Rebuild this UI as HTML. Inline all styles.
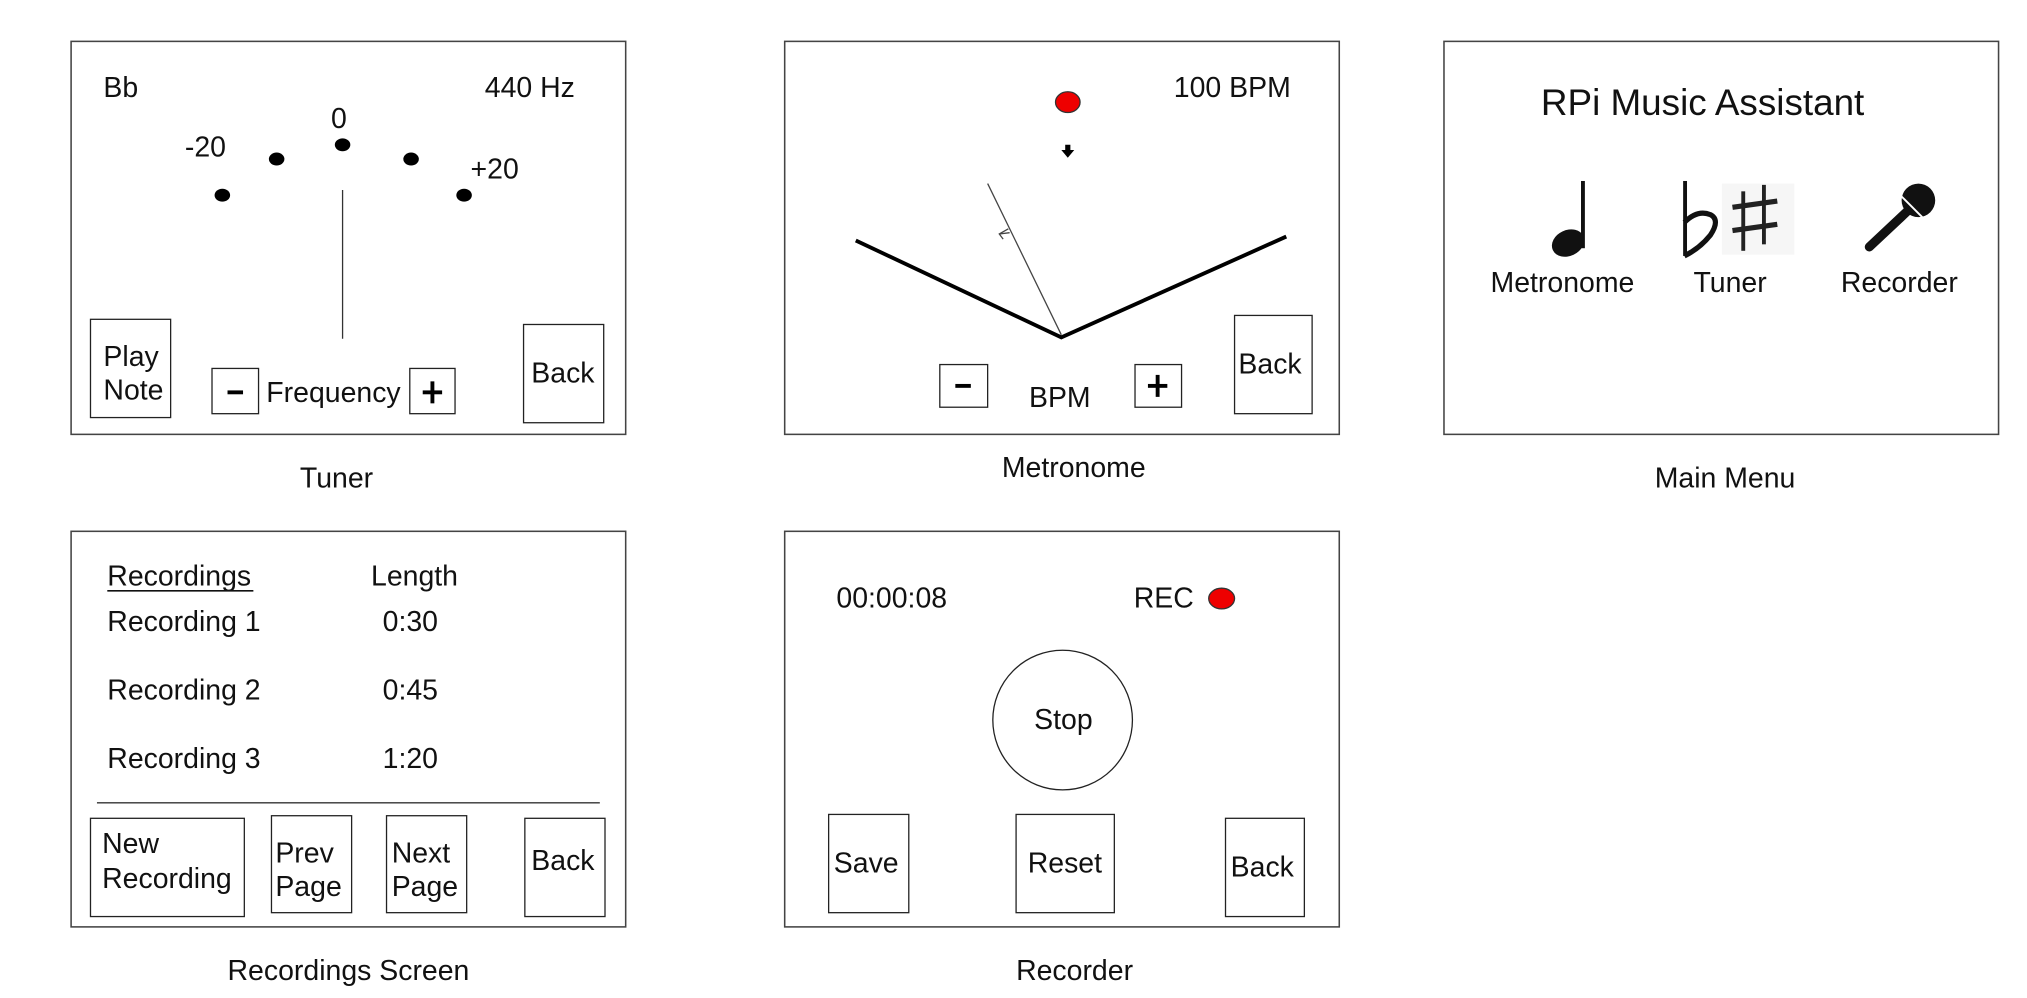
<!DOCTYPE html>
<html><head><meta charset="utf-8"><style>
html,body{margin:0;padding:0;background:#fff;}
svg{display:block;}
text{font-family:"Liberation Sans",sans-serif;font-size:22px;fill:#111;}
.p{fill:none;stroke:#444;stroke-width:1.2;}
.b{fill:#fff;stroke:#222;stroke-width:1;}
</style></head><body>
<svg width="2027" height="998" viewBox="0 0 1568 772">
<!-- Tuner -->
<g>
<rect class="p" x="55" y="32" width="429" height="304"/>
<text x="80" y="75">Bb</text>
<text x="375" y="75">440 Hz</text>
<text x="143" y="121">-20</text>
<text x="256" y="99">0</text>
<text x="364" y="138">+20</text>
<g fill="#000">
<ellipse cx="172" cy="151" rx="6" ry="5"/><ellipse cx="214" cy="123" rx="6" ry="5"/><ellipse cx="265" cy="112" rx="6" ry="5"/><ellipse cx="318" cy="123" rx="6" ry="5"/><ellipse cx="359" cy="151" rx="6" ry="5"/>
</g>
<line x1="265" y1="147" x2="265" y2="262" stroke="#333" stroke-width="1"/>
<g><rect class="b" x="70" y="247" width="62" height="76"/><text x="80" y="283">Play</text><text x="80" y="309">Note</text></g>
<g><rect class="b" x="164" y="285" width="36" height="35"/><rect x="176" y="302" width="12" height="3" fill="#000"/></g>
<text x="206" y="311">Frequency</text>
<g><rect class="b" x="317" y="285" width="35" height="35"/><rect x="327" y="302" width="15" height="3" fill="#000"/><rect x="333" y="295" width="3" height="17" fill="#000"/></g>
<g><rect class="b" x="405" y="251" width="62" height="76"/><text x="411" y="296">Back</text></g>
</g>
<text x="232" y="377">Tuner</text>

<!-- Metronome -->
<g>
<rect class="p" x="607" y="32" width="429" height="304"/>
<text x="908" y="75">100 BPM</text>
<ellipse cx="826" cy="79" rx="9.5" ry="8" fill="#e00" stroke="#333" stroke-width="1"/>
<path d="M824 112 h4 v4 h3 l-5 6 l-5 -6 h3z" fill="#000"/>
<polyline points="662,186 821,261 995,183" fill="none" stroke="#000" stroke-width="3"/>
<line x1="764" y1="142" x2="821" y2="259" stroke="#444" stroke-width="1"/>
<path d="M780 177 l-7 4 l3 4 M773 181 l8 -1" fill="none" stroke="#444" stroke-width="1"/>
<g><rect class="b" x="727" y="282" width="37" height="33"/><rect x="739" y="297" width="12" height="3" fill="#000"/></g>
<text x="796" y="315">BPM</text>
<g><rect class="b" x="878" y="282" width="36" height="33"/><rect x="888" y="297" width="15" height="3" fill="#000"/><rect x="894" y="290" width="3" height="17" fill="#000"/></g>
<g><rect class="b" x="955" y="244" width="60" height="76"/><text x="958" y="289">Back</text></g>
</g>
<text x="775" y="369">Metronome</text>

<!-- Main menu -->
<g>
<rect class="p" x="1117" y="32" width="429" height="304"/>
<text x="1192" y="89" style="font-size:28.5px">RPi Music Assistant</text>
<g>
<rect x="1223" y="140" width="3" height="52" fill="#111"/><ellipse cx="1213" cy="188" rx="13" ry="10" transform="rotate(-25 1213 188)" fill="#111"/>
</g>
<g>
<rect x="1302" y="140" width="3" height="58" fill="#111"/><path d="M1303 172 q10 -10 20 -6 q8 4 0 16 q-8 10 -20 16" fill="none" stroke="#111" stroke-width="4"/>
<rect x="1332" y="142" width="56" height="55" fill="#f6f6f6"/>
<g fill="#222"><rect x="1347" y="148" width="3" height="46"/><rect x="1363" y="143" width="3" height="46"/><rect x="1340" y="156" width="35" height="4" transform="rotate(-8 1357 158)"/><rect x="1340" y="174" width="35" height="4" transform="rotate(-8 1357 176)"/></g>
</g>
<g>
<line x1="1446" y1="191" x2="1478" y2="161" stroke="#111" stroke-width="7" stroke-linecap="round"/>
<circle cx="1484" cy="155" r="13" fill="#111"/><line x1="1471" y1="152" x2="1487" y2="168" stroke="#fff" stroke-width="1.5"/>
</g>
<text x="1153" y="226">Metronome</text>
<text x="1310" y="226">Tuner</text>
<text x="1424" y="226">Recorder</text>
</g>
<text x="1280" y="377">Main Menu</text>

<!-- Recordings -->
<g>
<rect class="p" x="55" y="411" width="429" height="306"/>
<text x="83" y="453">Recordings</text>
<line x1="83" y1="457" x2="196" y2="457" stroke="#111" stroke-width="1.3"/>
<text x="287" y="453">Length</text>
<text x="83" y="488">Recording 1</text><text x="296" y="488">0:30</text>
<text x="83" y="541">Recording 2</text><text x="296" y="541">0:45</text>
<text x="83" y="594">Recording 3</text><text x="296" y="594">1:20</text>
<line x1="75" y1="621" x2="464" y2="621" stroke="#333" stroke-width="1"/>
<g><rect class="b" x="70" y="633" width="119" height="76"/><text x="79" y="660">New</text><text x="79" y="687">Recording</text></g>
<g><rect class="b" x="210" y="631" width="62" height="75"/><text x="213" y="667">Prev</text><text x="213" y="693">Page</text></g>
<g><rect class="b" x="299" y="631" width="62" height="75"/><text x="303" y="667">Next</text><text x="303" y="693">Page</text></g>
<g><rect class="b" x="406" y="633" width="62" height="76"/><text x="411" y="673">Back</text></g>
</g>
<text x="176" y="758">Recordings Screen</text>

<!-- Recorder -->
<g>
<rect class="p" x="607" y="411" width="429" height="306"/>
<text x="647" y="470">00:00:08</text>
<text x="877" y="470">REC</text>
<ellipse cx="945" cy="463" rx="10" ry="8" fill="#e00" stroke="#333" stroke-width="1"/>
<g><circle cx="822" cy="557" r="54" class="b"/><text x="800" y="564">Stop</text></g>
<g><rect class="b" x="641" y="630" width="62" height="76"/><text x="645" y="675">Save</text></g>
<g><rect class="b" x="786" y="630" width="76" height="76"/><text x="795" y="675">Reset</text></g>
<g><rect class="b" x="948" y="633" width="61" height="76"/><text x="952" y="678">Back</text></g>
</g>
<text x="786" y="758">Recorder</text>
</svg>
</body></html>
